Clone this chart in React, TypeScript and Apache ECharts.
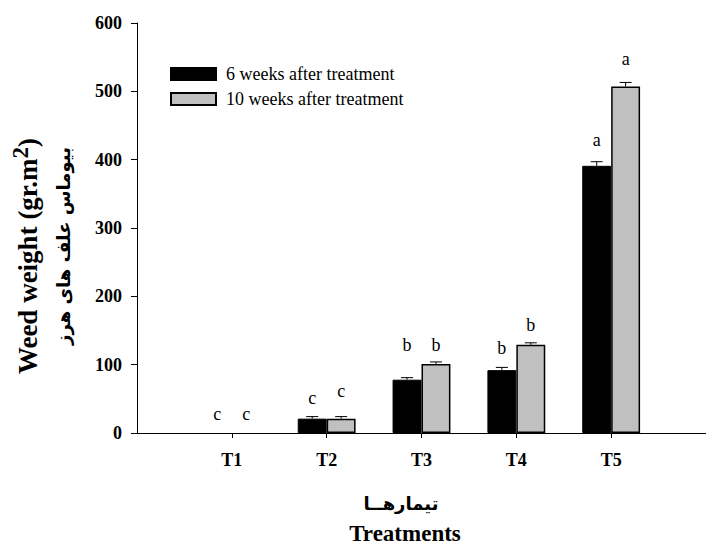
import React, { useEffect, useRef } from "react";
import * as echarts from "echarts";

const categories = ["", "T1", "T2", "T3", "T4", "T5", ""];
const seriesNames = ["6 weeks after treatment", "10 weeks after treatment"];
const week6 = [null, 0, 21, 78, 92, 391, null];
const week10 = [null, 0, 21, 101, 129, 507, null];
const err6 = [null, 0, 3, 3, 4, 6, null];
const err10 = [null, 0, 3, 3, 3, 6, null];
const letters6 = [null, "c", "c", "b", "b", "a", null];
const letters10 = [null, "c", "c", "b", "b", "a", null];
const letterY6 = [null, 28, 51, 129, 125, 429, null];
const letterY10 = [null, 28, 62, 129, 158, 548, null];
const yTicks = { min: 0, max: 600, interval: 100 };

const SERIF = "'Liberation Serif', 'Times New Roman', serif";
const BAR_OFF = 0.1526;

export default function App() {
  const ref = useRef<HTMLDivElement>(null);
  useEffect(() => {
    if (!ref.current) return;
    const chart = echarts.init(ref.current, null, { renderer: "svg" });

    const errData = (vals: any[], errs: any[], side: number) =>
      vals
        .map((v, i) => (v == null || !errs[i] ? null : [i, v, errs[i], side]))
        .filter((d) => d != null);
    const letterData = (ys: any[], side: number) =>
      ys.map((y, i) => (y == null ? null : [i, y, side])).filter((d) => d != null);
    const barData = (vals: any[]) =>
      vals.map((v) => (v === 0 ? { value: 0, itemStyle: { borderWidth: 0 } } : v));

    const errRender = (params: any, api: any) => {
      const i = api.value(0);
      const v = api.value(1);
      const e = api.value(2);
      const side = api.value(3);
      const bw = api.size([1, 0])[0];
      const p0 = api.coord([i, v]);
      const p1 = api.coord([i, v + e]);
      const x = p0[0] + side * bw * BAR_OFF;
      const cap = 6;
      return {
        type: "group",
        children: [
          { type: "line", shape: { x1: x, y1: p0[1], x2: x, y2: p1[1] }, style: { stroke: "#000", lineWidth: 1 } },
          { type: "line", shape: { x1: x - cap, y1: p1[1], x2: x + cap, y2: p1[1] }, style: { stroke: "#000", lineWidth: 1 } },
        ],
      };
    };

    const letterRender = (letters: any[]) => (params: any, api: any) => {
      const i = api.value(0);
      const y = api.value(1);
      const side = api.value(2);
      const bw = api.size([1, 0])[0];
      const p = api.coord([i, y]);
      return {
        type: "text",
        x: p[0] + side * bw * BAR_OFF,
        y: p[1],
        style: {
          text: letters[i],
          fontSize: 18,
          fontFamily: SERIF,
          fill: "#000",
          align: "center",
          verticalAlign: "middle",
        },
      };
    };

    const showIdx = (i: number) => i >= 1 && i <= 5;

    chart.setOption({
      animation: false,
      backgroundColor: "#fff",
      grid: { left: 137, top: 23, height: 410, width: 576, containLabel: false },
      legend: {
        orient: "vertical",
        left: 165,
        top: 60,
        itemWidth: 45,
        itemHeight: 12,
        itemGap: 7,
        icon: "rect",
        data: seriesNames,
        textStyle: { fontFamily: SERIF, fontSize: 18, color: "#000", padding: [0, 0, 0, 5] },
      },
      xAxis: {
        type: "category",
        data: categories,
        boundaryGap: false,
        axisLine: { lineStyle: { color: "#000", width: 1 } },
        axisTick: { show: true, length: 5, interval: (i: number) => showIdx(i), lineStyle: { color: "#000" } },
        axisLabel: {
          interval: (i: number) => showIdx(i),
          margin: 18,
          fontFamily: SERIF,
          fontWeight: "bold",
          fontSize: 18,
          color: "#000",
        },
        splitLine: { show: false },
      },
      yAxis: {
        type: "value",
        min: yTicks.min,
        max: yTicks.max,
        interval: yTicks.interval,
        axisLine: { show: true, lineStyle: { color: "#000", width: 1 } },
        axisTick: { show: true, length: 6, lineStyle: { color: "#000" } },
        axisLabel: { margin: 15, fontFamily: SERIF, fontWeight: "bold", fontSize: 18, color: "#000" },
        splitLine: { show: false },
      },
      graphic: [
        {
          type: "text",
          x: 28,
          y: 256,
          rotation: Math.PI / 2,
          style: {
            text: "{a|Weed weight (gr.m}{s|2}{a|)}",
            align: "center",
            verticalAlign: "middle",
            rich: {
              a: { fontFamily: SERIF, fontWeight: "bold", fontSize: 27, fill: "#000" },
              s: { fontFamily: SERIF, fontWeight: "bold", fontSize: 23, fill: "#000", padding: [0, 0, 16, 0] },
            },
          },
        },
        {
          type: "text",
          x: 63,
          y: 246,
          rotation: Math.PI / 2,
          style: {
            text: "بیوماس علف های هرز",
            align: "center",
            verticalAlign: "middle",
            fontFamily: "'DejaVu Sans'",
            fontWeight: "bold",
            fontSize: 18,
            fill: "#000",
          },
        },
        {
          type: "text",
          x: 401,
          y: 503,
          style: {
            text: "تیمارهــا",
            align: "center",
            verticalAlign: "middle",
            fontFamily: "'DejaVu Sans'",
            fontWeight: "bold",
            fontSize: 18,
            fill: "#000",
          },
        },
        {
          type: "text",
          x: 405,
          y: 533,
          style: {
            text: "Treatments",
            align: "center",
            verticalAlign: "middle",
            fontFamily: SERIF,
            fontWeight: "bold",
            fontSize: 23,
            fill: "#000",
          },
        },
      ],
      series: [
        {
          name: seriesNames[0],
          type: "bar",
          data: barData(week6),
          barWidth: "30.5%",
          barGap: "0%",
          itemStyle: { color: "#000", borderColor: "#000", borderWidth: 1 },
        },
        {
          name: seriesNames[1],
          type: "bar",
          data: barData(week10),
          barWidth: "30.5%",
          barGap: "0%",
          itemStyle: { color: "#c0c0c0", borderColor: "#000", borderWidth: 1.5 },
        },
        { type: "custom", renderItem: errRender, data: errData(week6, err6, -1), z: 5 },
        { type: "custom", renderItem: errRender, data: errData(week10, err10, 1), z: 5 },
        { type: "custom", renderItem: letterRender(letters6), data: letterData(letterY6, -1), z: 6 },
        { type: "custom", renderItem: letterRender(letters10), data: letterData(letterY10, 1), z: 6 },
      ],
    });
    return () => chart.dispose();
  }, []);
  return (
    <div
      ref={ref}
      style={{ position: "fixed", left: 0, top: 0, width: 706, height: 544, background: "#fff" }}
    />
  );
}
